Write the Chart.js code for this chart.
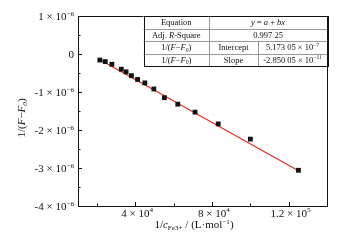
<!DOCTYPE html>
<html>
<head>
<meta charset="utf-8">
<script src="https://cdn.jsdelivr.net/npm/chart.js@4"></script>
<style>
  html, body { margin: 0; padding: 0; background: #fff; }
  #wrap { width: 351px; height: 247px; }
</style>
</head>
<body>
<div id="wrap"><canvas id="myChart"></canvas></div>
<script>
// data
const xValues = [21400, 24200, 27700, 32600, 35100, 37900, 41100, 44900, 49600, 55100, 62100, 71100, 83200, 100000, 125100]
const yValues = [-0.16e-6, -0.20e-6, -0.27e-6, -0.40e-6, -0.47e-6, -0.57e-6, -0.67e-6, -0.76e-6, -0.92e-6, -1.15e-6, -1.32e-6, -1.53e-6, -1.84e-6, -2.24e-6, -3.06e-6]
// ends of the red fitted line
const fitX = [21400, 125100]
const fitY = [-0.15e-6, -3.07e-6]

const xMajor = [40000, 80000, 120000]
const xMinor = [20000, 60000, 100000]
// tick label = base + exponent
const xLabelBase = ['4 × 10', '8 × 10', '1.2 × 10']
const xLabelExp = ['4', '4', '5']
const yMajor = [1e-6, 0, -1e-6, -2e-6, -3e-6, -4e-6]
const yMinor = [0.5e-6, -0.5e-6, -1.5e-6, -2.5e-6, -3.5e-6]
const yLabelBase = ['1 × 10', '0', '-1 × 10', '-2 × 10', '-3 × 10', '-4 × 10']
const yLabelExp = ['−6', '', '−6', '−6', '−6', '−6']

const SERIF = '"Liberation Serif", "DejaVu Serif", serif'

// draws a string made of parts: {t, i: italic, sup, sub}
function drawRich(ctx, parts, x, y, size, align) {
    const fontOf = (p) => (p.i ? 'italic ' : '') + (p.sup || p.sub ? size * 0.65 : size) + 'px ' + SERIF
    let w = 0
    parts.forEach((p) => { ctx.font = fontOf(p); w += ctx.measureText(p.t).width })
    let cx = align === 'center' ? x - w / 2 : (align === 'right' ? x - w : x)
    ctx.textAlign = 'left'
    ctx.textBaseline = 'alphabetic'
    parts.forEach((p) => {
        ctx.font = fontOf(p)
        let dy = p.sup ? -size * 0.4 : (p.sub ? size * 0.22 : 0)
        ctx.fillText(p.t, cx, y + dy)
        cx += ctx.measureText(p.t).width
    })
    return w
}

const fParts = [{t: '1/('}, {t: 'F', i: true}, {t: '−'}, {t: 'F', i: true}, {t: '0', i: true, sub: true}, {t: ')'}]

const decor = {
    id: 'decor',
    afterDraw(chart) {
        const ctx = chart.ctx
        const a = chart.chartArea
        const xs = chart.scales.x, ys = chart.scales.y
        ctx.save()
        ctx.strokeStyle = '#111'
        ctx.lineWidth = 1
        // frame
        ctx.strokeRect(Math.round(a.left) + 0.5, Math.round(a.top) + 0.5, Math.round(a.right - a.left), Math.round(a.bottom - a.top))
        // inward ticks
        ctx.beginPath()
        xMajor.forEach((v) => { const px = Math.round(xs.getPixelForValue(v)) + 0.5; ctx.moveTo(px, a.bottom); ctx.lineTo(px, a.bottom - 4) })
        xMinor.forEach((v) => { const px = Math.round(xs.getPixelForValue(v)) + 0.5; ctx.moveTo(px, a.bottom); ctx.lineTo(px, a.bottom - 2.5) })
        yMajor.forEach((v) => { const py = Math.round(ys.getPixelForValue(v)) + 0.5; ctx.moveTo(a.left, py); ctx.lineTo(a.left + 4, py) })
        yMinor.forEach((v) => { const py = Math.round(ys.getPixelForValue(v)) + 0.5; ctx.moveTo(a.left, py); ctx.lineTo(a.left + 2.5, py) })
        ctx.stroke()

        ctx.fillStyle = '#111'
        // tick labels
        const ts = 11
        yMajor.forEach((v, i) => {
            const py = ys.getPixelForValue(v) + 4
            let parts = [{t: yLabelBase[i]}]
            if (yLabelExp[i]) parts.push({t: yLabelExp[i], sup: true})
            drawRich(ctx, parts, a.left - 4, py, ts, 'right')
        })
        xMajor.forEach((v, i) => {
            const px = xs.getPixelForValue(v)
            ctx.font = ts + 'px ' + SERIF
            const bw = ctx.measureText(xLabelBase[i]).width
            drawRich(ctx, [{t: xLabelBase[i]}, {t: xLabelExp[i], sup: true}], px - bw / 2, a.bottom + 10.5, ts, 'left')
        })

        // axis titles
        drawRich(ctx, [{t: '1/'}, {t: 'c', i: true}, {t: 'Fe3+', sub: true}, {t: ' / (L·mol'}, {t: '−1', sup: true}, {t: ')'}], 194, 228, 11, 'center')
        ctx.save()
        ctx.translate(25, 118)
        ctx.rotate(-Math.PI / 2)
        drawRich(ctx, fParts, 0, 0, 11, 'center')
        ctx.restore()

        // fit table in the top right corner
        const cols = [a.right - 183.5, a.right - 118, a.right - 69, a.right]
        const rows = [a.top, a.top + 12.5, a.top + 25, a.top + 37.5, a.top + 50]
        ctx.fillStyle = '#fff'
        ctx.fillRect(cols[0], rows[0], cols[3] - cols[0], rows[4] - rows[0])
        ctx.strokeStyle = '#999'
        ctx.beginPath()
        for (let r = 1; r < 4; r++) { ctx.moveTo(cols[0], Math.round(rows[r]) + 0.5); ctx.lineTo(cols[3], Math.round(rows[r]) + 0.5) }
        ctx.moveTo(Math.round(cols[1]) + 0.5, rows[0]); ctx.lineTo(Math.round(cols[1]) + 0.5, rows[4])
        ctx.moveTo(Math.round(cols[2]) + 0.5, rows[2]); ctx.lineTo(Math.round(cols[2]) + 0.5, rows[4])
        ctx.stroke()
        ctx.strokeStyle = '#111'
        ctx.strokeRect(Math.round(cols[0]) + 0.5, Math.round(rows[0]) + 0.5, Math.round(cols[3] - cols[0]), Math.round(rows[4] - rows[0]))

        ctx.fillStyle = '#111'
        const s = 8.5
        const mid = (r) => (rows[r] + rows[r + 1]) / 2 + s * 0.33
        const c1 = (cols[0] + cols[1]) / 2, c23 = (cols[1] + cols[3]) / 2
        const c2 = (cols[1] + cols[2]) / 2, c3 = (cols[2] + cols[3]) / 2
        drawRich(ctx, [{t: 'Equation'}], c1, mid(0), s, 'center')
        drawRich(ctx, [{t: 'y', i: true}, {t: ' = '}, {t: 'a', i: true}, {t: ' + '}, {t: 'bx', i: true}], c23, mid(0), s, 'center')
        drawRich(ctx, [{t: 'Adj. '}, {t: 'R', i: true}, {t: '-Square'}], c1, mid(1), s, 'center')
        drawRich(ctx, [{t: '0.997 25'}], c23, mid(1), s, 'center')
        drawRich(ctx, fParts, c1, mid(2), s, 'center')
        drawRich(ctx, [{t: 'Intercept'}], c2, mid(2), s, 'center')
        drawRich(ctx, [{t: '5.173 05 × 10'}, {t: '−7', sup: true}], c3, mid(2), s, 'center')
        drawRich(ctx, fParts, c1, mid(3), s, 'center')
        drawRich(ctx, [{t: 'Slope'}], c2, mid(3), s, 'center')
        drawRich(ctx, [{t: '-2.850 05 × 10'}, {t: '−11', sup: true}], c3, mid(3), s, 'center')
        ctx.restore()
    }
}

const points = xValues.map((x, i) => ({x: x, y: yValues[i]}))
const fitLine = fitX.map((x, i) => ({x: x, y: fitY[i]}))

const config = {
    type: 'scatter',
    data: {
        datasets: [{
            data: points,
            pointStyle: 'rect',
            pointRadius: 3.4,
            backgroundColor: '#111',
            borderColor: '#111',
            borderWidth: 0
        }, {
            data: fitLine,
            showLine: true,
            borderColor: '#e8261c',
            borderWidth: 1.1,
            pointRadius: 0
        }]
    },
    options: {
        responsive: true,
        maintainAspectRatio: false,
        animation: false,
        events: [],
        layout: { padding: { left: 0, right: 24, top: 16, bottom: 0 } },
        plugins: { legend: { display: false }, tooltip: { enabled: false } },
        scales: {
            x: {
                type: 'linear',
                min: 10000,
                max: 140000,
                grid: { display: false },
                border: { display: false },
                ticks: { display: false },
                afterFit: (scale) => { scale.height = 41 }
            },
            y: {
                type: 'linear',
                min: -4e-6,
                max: 1e-6,
                grid: { display: false },
                border: { display: false },
                ticks: { display: false },
                afterFit: (scale) => { scale.width = 78 }
            }
        }
    },
    plugins: [decor]
}

new Chart(document.getElementById('myChart'), config)
</script>
</body>
</html>
